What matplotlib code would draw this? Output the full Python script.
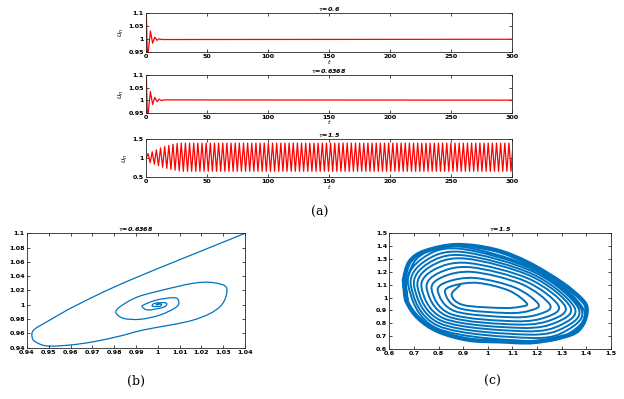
import numpy as np
import matplotlib
matplotlib.use("Agg")
import matplotlib.pyplot as plt
from matplotlib.path import Path
from matplotlib.patches import PathPatch

# ---- datos ----
# (a) series temporales: extremos sucesivos de u_n
t1 = [0, 1.2, 3.6, 5.4, 7.2, 9.0, 10.8, 12.6, 300]
u1 = [1.15, 0.92, 1.032, 0.985, 1.008, 0.996, 1.002, 0.999, 1.0]

t2 = [0, 1.2, 3.6, 5.4, 7.2, 9.0, 10.8, 12.6, 14.4, 300]
u2 = [1.15, 0.92, 1.034, 0.983, 1.011, 0.994, 1.004, 0.998, 1.001, 1.0]

semiperiodo3 = 1.7
u3 = [1.00, 1.12, 0.88, 1.17, 0.84, 1.22, 0.80, 1.27, 0.76, 1.31,
      0.73, 1.34, 0.70, 1.37, 0.68, 1.39, 0.66, 1.40, 0.65,
      1.40, 0.65, 1.40, 0.65, 1.40, 0.65, 1.40, 0.65, 1.40, 0.65,
      1.40, 0.65, 1.40, 0.65, 1.40, 0.65, 1.40, 0.65, 1.40, 0.65,
      1.40, 0.65, 1.40, 0.65, 1.40, 0.65, 1.40, 0.65, 1.40, 0.65,
      1.40, 0.65, 1.40, 0.65, 1.40, 0.65, 1.40, 0.65, 1.40, 0.65,
      1.40, 0.65, 1.40, 0.65, 1.40, 0.65, 1.40, 0.65, 1.40, 0.65,
      1.40, 0.65, 1.40, 0.65, 1.40, 0.65, 1.40, 0.65, 1.40, 0.65,
      1.40, 0.65, 1.40, 0.65, 1.40, 0.65, 1.40, 0.65, 1.40, 0.65,
      1.40, 0.65, 1.40, 0.65, 1.40, 0.65, 1.40, 0.65, 1.40, 0.65,
      1.40, 0.65, 1.40, 0.65, 1.40, 0.65, 1.40, 0.65, 1.40, 0.65,
      1.40, 0.65, 1.40, 0.65, 1.40, 0.65, 1.40, 0.65, 1.40, 0.65,
      1.40, 0.65, 1.40, 0.65, 1.40, 0.65, 1.40, 0.65, 1.40, 0.65,
      1.40, 0.65, 1.40, 0.65, 1.40, 0.65, 1.40, 0.65, 1.40, 0.65,
      1.40, 0.65, 1.40, 0.65, 1.40, 0.65, 1.40, 0.65, 1.40, 0.65,
      1.40, 0.65, 1.40, 0.65, 1.40, 0.65, 1.40, 0.65, 1.40, 0.65,
      1.40, 0.65, 1.40, 0.65, 1.40, 0.65, 1.40, 0.65, 1.40, 0.65,
      1.40, 0.65, 1.40, 0.65, 1.40, 0.65, 1.40, 0.65, 1.40,
      0.65, 1.40, 0.65, 1.40, 0.65, 1.40, 0.65, 1.40, 0.65, 1.40,
      0.65, 1.40]

# (b) retrato de fase tau=0.6368
xb = [1.04, 0.9874, 0.9629, 0.9492, 0.9431, 0.9423, 0.9438, 0.9492, 0.9599,
      0.9706, 0.9828, 0.9934, 1.0163, 1.0285, 1.0316, 1.0255, 1.0163, 1.0010,
      0.9903, 0.9827, 0.9808, 0.9842, 0.9918, 1.0010, 1.0087, 1.0094, 1.0071,
      0.9995, 0.9934, 0.9931, 0.9956, 1.0025, 1.0041, 1.0030, 0.9985, 0.9975,
      1.0010, 1.0015, 0.9992, 1.0000]
yb = [1.10, 1.0347, 0.9997, 0.9764, 0.9648, 0.9554, 0.9484, 0.9424, 0.9438,
      0.9484, 0.9564, 0.9648, 0.9787, 0.9973, 1.0231, 1.0309, 1.0301, 1.0197,
      1.0105, 0.9973, 0.9889, 0.9811, 0.9797, 0.9857, 0.9973, 1.0067, 1.0099,
      1.0067, 0.9997, 0.9965, 0.9927, 0.9965, 1.0007, 1.0030, 1.0020, 0.9980,
      0.9980, 1.0010, 1.0005, 1.0000]

# (c) retrato de fase tau=1.5: espiral hacia el ciclo limite
xc = [0.887, 0.853,
      0.901, 1.06, 1.132, 1.158, 1.085, 0.96, 0.862, 0.826,
      0.884, 1.08, 1.171, 1.205, 1.111, 0.95, 0.838, 0.797,
      0.867, 1.10, 1.211, 1.252, 1.137, 0.94, 0.817, 0.772,
      0.850, 1.11, 1.238, 1.286, 1.154, 0.93, 0.800, 0.752,
      0.837, 1.12, 1.261, 1.313, 1.168, 0.92, 0.782, 0.731,
      0.824, 1.135, 1.280, 1.334, 1.177, 0.91, 0.768, 0.715,
      0.815, 1.15, 1.297, 1.351, 1.184, 0.90, 0.755, 0.701,
      0.807, 1.16, 1.311, 1.367, 1.192, 0.895, 0.744, 0.688,
      0.800, 1.175, 1.323, 1.378, 1.196, 0.885, 0.733, 0.677,
      0.795, 1.19, 1.335, 1.388, 1.199, 0.878, 0.721, 0.663]
yc = [1.096, 1.02,
      0.942, 0.919, 0.929, 0.955, 1.055, 1.114, 1.094, 1.04,
      0.917, 0.880, 0.899, 0.950, 1.077, 1.152, 1.124, 1.05,
      0.894, 0.847, 0.873, 0.945, 1.105, 1.199, 1.161, 1.06,
      0.872, 0.816, 0.849, 0.940, 1.126, 1.236, 1.191, 1.07,
      0.854, 0.790, 0.829, 0.935, 1.145, 1.269, 1.217, 1.075,
      0.836, 0.764, 0.809, 0.930, 1.165, 1.303, 1.243, 1.08,
      0.817, 0.738, 0.788, 0.925, 1.180, 1.329, 1.263, 1.085,
      0.798, 0.712, 0.768, 0.920, 1.194, 1.355, 1.283, 1.09,
      0.779, 0.686, 0.748, 0.915, 1.208, 1.380, 1.303, 1.095,
      0.760, 0.660, 0.728, 0.910, 1.219, 1.400, 1.319, 1.10]
x_ciclo = [0.662, 0.671, 0.718, 0.799, 0.921, 1.05, 1.19, 1.334, 1.384, 1.401,
           1.381, 1.30, 1.164, 1.029, 0.874, 0.745, 0.684, 0.661, 0.662, 0.671]
y_ciclo = [1.10, 0.971, 0.841, 0.738, 0.673, 0.66, 0.655, 0.712, 0.789, 0.906,
           0.984, 1.113, 1.269, 1.37, 1.408, 1.36, 1.282, 1.152, 1.10, 0.971]

ticks_t = [0, 50, 100, 150, 200, 250, 300]
ticks_u12 = [0.95, 1, 1.05, 1.1]
etiq_u12 = ["0.95", "1", "1.05", "1.1"]
ticks_u3 = [0.5, 1, 1.5]
etiq_u3 = ["0.5", "1", "1.5"]
ticks_bx = [0.94, 0.95, 0.96, 0.97, 0.98, 0.99, 1.0, 1.01, 1.02, 1.03, 1.04]
etiq_bx = ["0.94", "0.95", "0.96", "0.97", "0.98", "0.99", "1", "1.01", "1.02", "1.03", "1.04"]
ticks_by = [0.94, 0.96, 0.98, 1.0, 1.02, 1.04, 1.06, 1.08, 1.1]
etiq_by = ["0.94", "0.96", "0.98", "1", "1.02", "1.04", "1.06", "1.08", "1.1"]
ticks_c = [0.6, 0.7, 0.8, 0.9, 1.0, 1.1, 1.2, 1.3, 1.4, 1.5]
etiq_c = ["0.6", "0.7", "0.8", "0.9", "1", "1.1", "1.2", "1.3", "1.4", "1.5"]

rojo = "#ff0000"
azul = "#0072BD"
fs = 4.6


def estilo(ax):
    ax.tick_params(direction="in", top=True, right=True, length=2, width=0.5,
                   labelsize=fs, pad=1.5)
    for lab in ax.get_xticklabels() + ax.get_yticklabels():
        lab.set_fontweight("bold")
    for s in ax.spines.values():
        s.set_linewidth(0.6)
        s.set_color("#262626")


def curva_suave(ax, xs, ys, **kw):
    # trazo suave (bezier tipo catmull-rom) que pasa por los puntos leidos
    p = np.column_stack([xs, ys])
    n = len(p)
    verts = [p[0]]
    codes = [Path.MOVETO]
    for i in range(n - 1):
        p0 = p[i - 1] if i > 0 else p[i]
        p1 = p[i]
        p2 = p[i + 1]
        p3 = p[i + 2] if i + 2 < n else p[i + 1]
        verts += [p1 + (p2 - p0) / 6, p2 - (p3 - p1) / 6, p2]
        codes += [Path.CURVE4] * 3
    ax.add_patch(PathPatch(Path(verts, codes), fill=False, capstyle="round",
                           joinstyle="round", **kw))


fig = plt.figure(figsize=(6.24, 3.99), dpi=100)

paneles = [
    (t1, u1, "0.6", [0.869, 0.0977], (0.95, 1.1), ticks_u12, etiq_u12),
    (t2, u2, "0.6368", [0.7175, 0.0945], (0.95, 1.1), ticks_u12, etiq_u12),
    (None, u3, "1.5", [0.5564, 0.0945], (0.5, 1.5), ticks_u3, etiq_u3),
]
for t, u, tau, (b, h), ylim, yt, ye in paneles:
    ax = fig.add_axes([0.234, b, 0.5865, h])
    if t is None:
        t = np.arange(len(u)) * semiperiodo3
        ax.plot(t, u, color=rojo, lw=0.9)
    else:
        ax.plot(t, u, color=rojo, lw=0.9)
    ax.set_xlim(0, 300)
    ax.set_ylim(*ylim)
    ax.set_xticks(ticks_t)
    ax.set_yticks(yt)
    ax.set_yticklabels(ye)
    ax.set_title(r"$\tau$=" + tau, fontsize=fs, fontstyle="italic",
                 fontweight="bold", pad=1.5)
    ax.set_xlabel("t", fontsize=fs, fontstyle="italic", labelpad=0.5)
    ax.set_ylabel(r"$u_n$", fontsize=fs + 0.5, labelpad=2)
    estilo(ax)

axb = fig.add_axes([0.0433, 0.1286, 0.3494, 0.2867])
curva_suave(axb, xb, yb, edgecolor=azul, lw=0.9)
axb.set_xlim(0.94, 1.04)
axb.set_ylim(0.94, 1.1)
axb.set_xticks(ticks_bx)
axb.set_xticklabels(etiq_bx)
axb.set_yticks(ticks_by)
axb.set_yticklabels(etiq_by)
axb.set_title(r"$\tau$=0.6368", fontsize=fs, fontstyle="italic",
              fontweight="bold", pad=1.5)
estilo(axb)

axc = fig.add_axes([0.6239, 0.1253, 0.3553, 0.29])
curva_suave(axc, x_ciclo, y_ciclo, edgecolor=azul, lw=3.2)
curva_suave(axc, xc, yc, edgecolor=azul, lw=1.4)
axc.set_xlim(0.6, 1.5)
axc.set_ylim(0.6, 1.5)
axc.set_xticks(ticks_c)
axc.set_xticklabels(etiq_c)
axc.set_yticks(ticks_c)
axc.set_yticklabels(etiq_c)
axc.set_title(r"$\tau$=1.5", fontsize=fs, fontstyle="italic",
              fontweight="bold", pad=1.5)
estilo(axc)

fig.text(320 / 624, 1 - 212 / 399, "(a)", ha="center", va="center",
         fontsize=9, family="DejaVu Serif")
fig.text(136 / 624, 1 - 381 / 399, "(b)", ha="center", va="center",
         fontsize=9, family="DejaVu Serif")
fig.text(492 / 624, 1 - 381 / 399, "(c)", ha="center", va="center",
         fontsize=9, family="DejaVu Serif")

fig.savefig("out.png", dpi=100)
